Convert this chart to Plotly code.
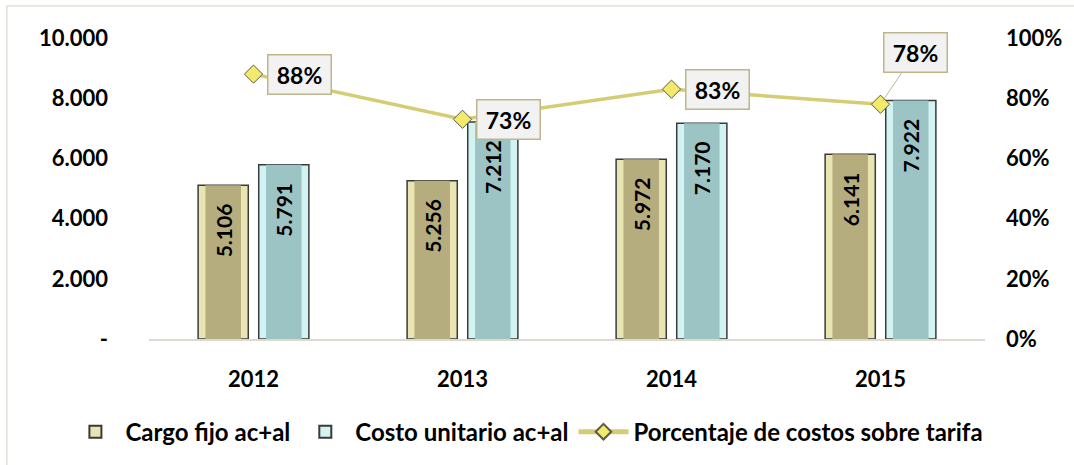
import plotly.graph_objects as go

# Data
years = ["2012", "2013", "2014", "2015"]
cargo_fijo = [5106, 5256, 5972, 6141]
costo_unitario = [5791, 7212, 7170, 7922]
porcentaje = [0.88, 0.73, 0.83, 0.78]

left_ticks = [0, 2000, 4000, 6000, 8000, 10000]
left_ticktext = ["-", "2.000", "4.000", "6.000", "8.000", "10.000"]

FONT = "Lato, 'Open Sans', sans-serif"
NBSP = "\u00a0"

# bar geometry in category units
OUT_W = 0.24
IN_W = 0.17
INSET = (OUT_W - IN_W) / 2
OFF_A = -0.265
OFF_B = 0.025

fig = go.Figure()

def add_bar(name, values, offset, light, dark):
    # light outer body with dark outline
    fig.add_trace(go.Bar(
        x=years, y=values, name=name, offset=offset, width=OUT_W,
        marker=dict(color=light, line=dict(color="#3a3a3a", width=1.5)),
        hoverinfo="skip", showlegend=True,
    ))
    # darker inner face carrying the value label (padded away from the bar top)
    fig.add_trace(go.Bar(
        x=years, y=values, name=name, offset=offset + INSET, width=IN_W,
        marker=dict(color=dark, line=dict(width=0)),
        texttemplate="%{y:,.0f}" + NBSP * 3, textposition="inside", insidetextanchor="end",
        textangle=-90, textfont=dict(family=FONT, size=21, color="#000000", weight="bold"),
        showlegend=False,
    ))

add_bar("Cargo fijo ac+al", cargo_fijo, OFF_A, "#e9e5b2", "#b6ad7e")
add_bar("Costo unitario ac+al", costo_unitario, OFF_B, "#d3f3f3", "#9dc4c4")

fig.add_trace(go.Scatter(
    x=years, y=porcentaje, name="Porcentaje de costos sobre tarifa", yaxis="y2",
    mode="lines+markers",
    line=dict(color="#d5cd74", width=3.5),
    marker=dict(symbol="diamond", size=14, color="#f3ea6c", line=dict(color="#5a5a4a", width=1)),
))

# percentage callouts (x given as category index)
for i, p in enumerate(porcentaje):
    common = dict(
        x=i, y=p, xref="x", yref="y2", text=f"{round(p*100)}%",
        font=dict(family=FONT, size=23, color="#000000", weight="bold"),
        bgcolor="#f2f2f2", bordercolor="#bdb68a", borderwidth=1.5, borderpad=4,
        width=54, height=30,
    )
    if i == len(porcentaje) - 1:
        fig.add_annotation(**common, showarrow=True, arrowhead=0, arrowwidth=1,
                           arrowcolor="#bdb595", ax=35, ay=-52, standoff=4)
    else:
        fig.add_annotation(**common, showarrow=False, xshift=46)

fig.update_layout(
    width=1074, height=465,
    margin=dict(l=149, r=89, t=38, b=125),
    paper_bgcolor="#ffffff", plot_bgcolor="#ffffff",
    barmode="overlay",
    separators=",.",
    font=dict(family=FONT, color="#000000"),
    xaxis=dict(
        type="category", range=[-0.5, 3.5], showgrid=False, ticks="",
        showline=True, linecolor="#dcd9cf", linewidth=2,
        tickfont=dict(family=FONT, size=22, weight="bold"), ticklabelstandoff=20,
    ),
    yaxis=dict(
        range=[0, 10000], tickvals=left_ticks, ticktext=left_ticktext,
        showgrid=False, zeroline=False, ticks="",
        tickfont=dict(family=FONT, size=22, weight="bold"), ticklabelstandoff=40,
    ),
    yaxis2=dict(
        range=[0, 1], overlaying="y", side="right", tickformat=".0%",
        tickvals=[0, 0.2, 0.4, 0.6, 0.8, 1.0],
        showgrid=False, zeroline=False, ticks="",
        tickfont=dict(family=FONT, size=22, weight="bold"), ticklabelstandoff=20,
    ),
    legend=dict(
        orientation="h", x=-0.1, xanchor="left", y=-0.305, yanchor="middle",
        font=dict(family=FONT, size=24, weight="bold"), traceorder="normal",
        itemsizing="constant", itemwidth=50, tracegroupgap=0,
    ),
    showlegend=True,
    shapes=[dict(type="rect", xref="paper", yref="paper",
                 x0=-0.17, x1=1.3, y0=-0.6, y1=1.106,
                 line=dict(color="#e2dfd6", width=1.5), fillcolor="rgba(0,0,0,0)",
                 layer="below")],
)

fig.write_html("out.html")
